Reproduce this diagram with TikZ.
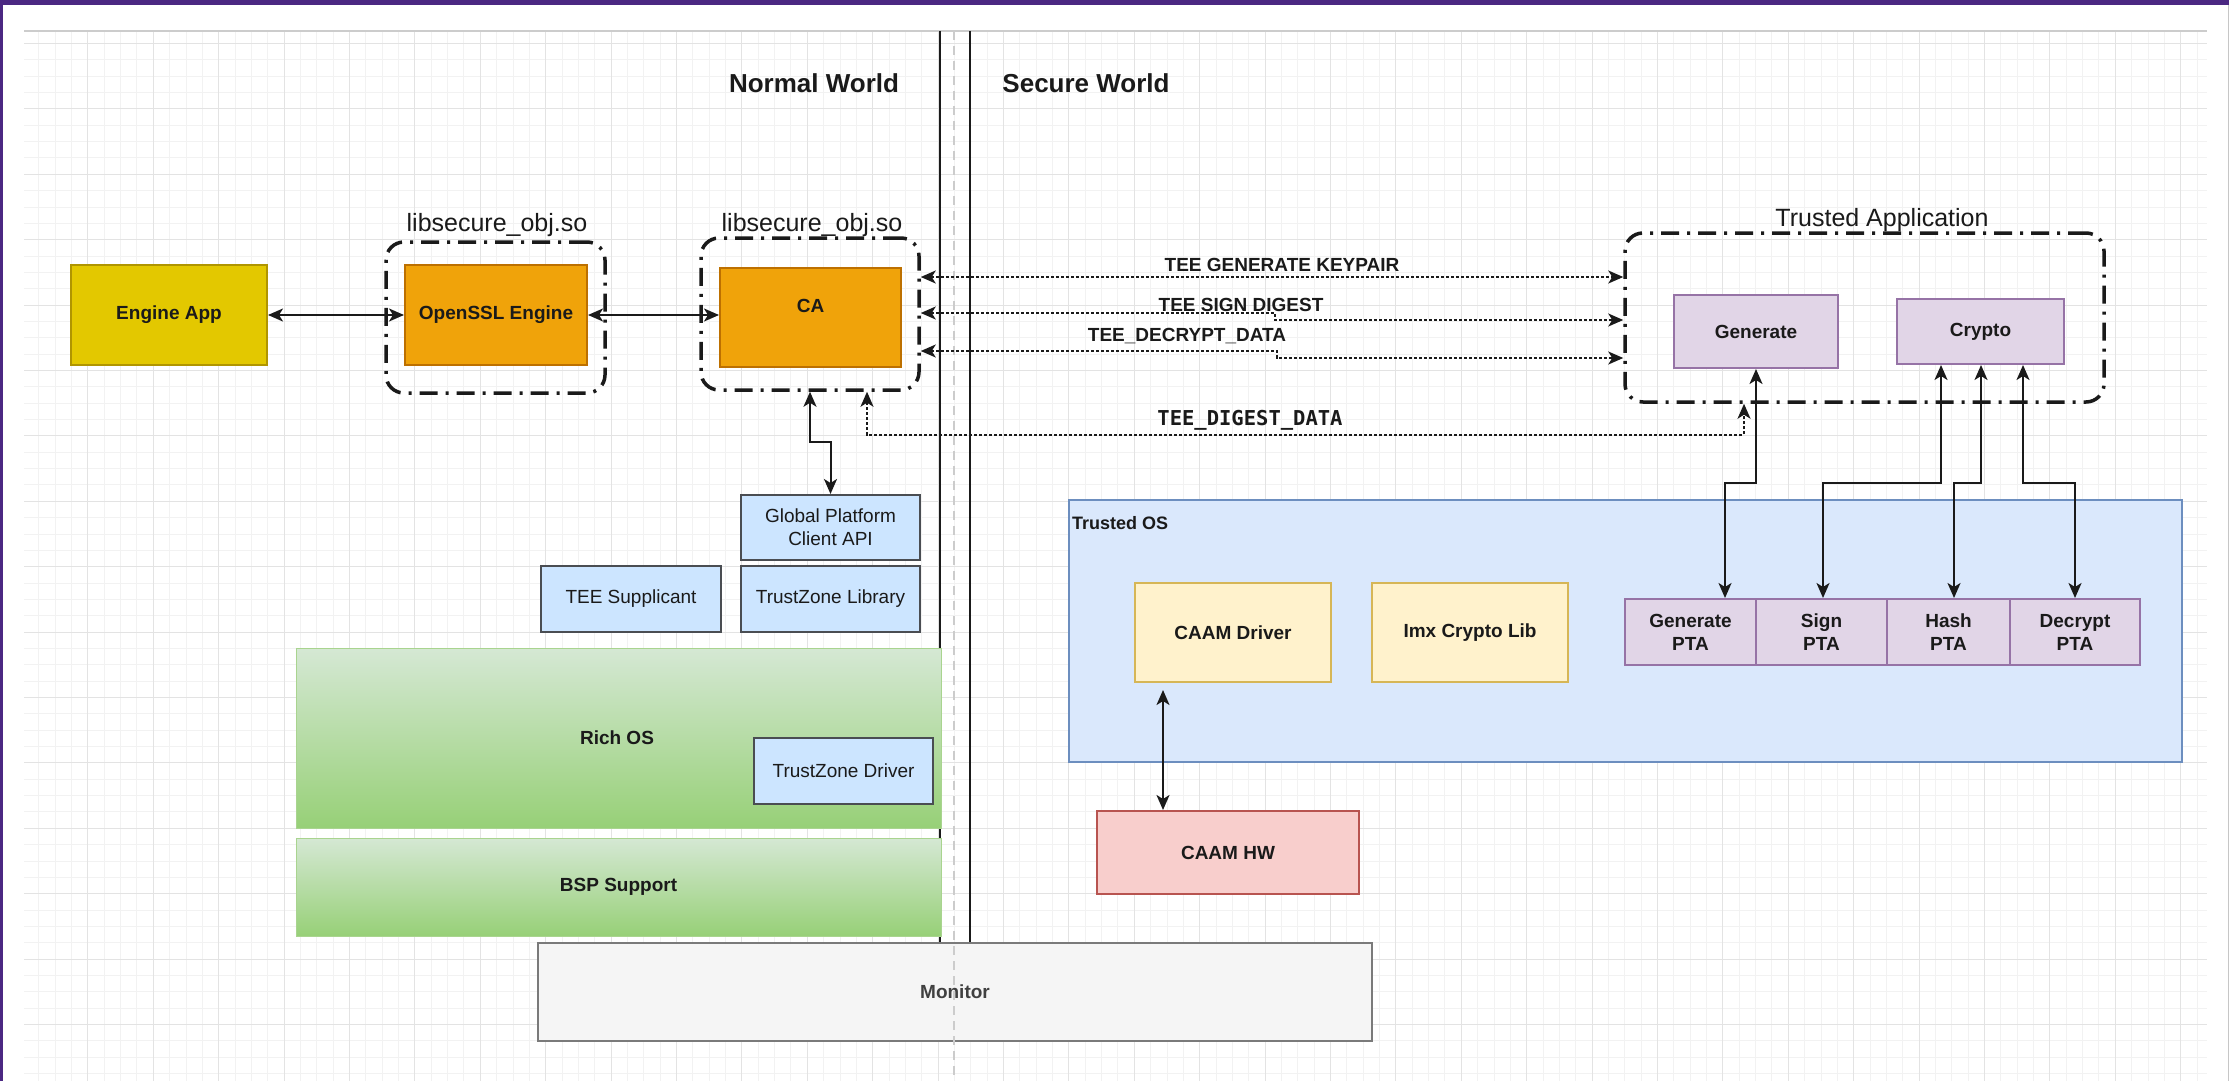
\documentclass[tikz,border=0pt]{standalone}
\usepackage{fontspec}
\setmainfont{Liberation Sans}
\newfontfamily\codefont{DejaVu Sans Mono}
\usetikzlibrary{arrows.meta,calc}

\definecolor{ink}{HTML}{1A1A1A}
\definecolor{frame}{HTML}{4B2882}
\definecolor{gridminor}{HTML}{F2F2F2}
\definecolor{gridmajor}{HTML}{E3E3E3}
\definecolor{engFill}{HTML}{E3C800}
\definecolor{engDraw}{HTML}{B09500}
\definecolor{orFill}{HTML}{F0A30A}
\definecolor{orDraw}{HTML}{BD7000}
\definecolor{purFill}{HTML}{E1D5E7}
\definecolor{purDraw}{HTML}{9673A6}
\definecolor{bluFill}{HTML}{CCE5FF}
\definecolor{bluDraw}{HTML}{4A4D52}
\definecolor{tosFill}{HTML}{DAE8FC}
\definecolor{tosDraw}{HTML}{6C8EBF}
\definecolor{yelFill}{HTML}{FFF2CC}
\definecolor{yelDraw}{HTML}{D6B656}
\definecolor{redFill}{HTML}{F8CECC}
\definecolor{redDraw}{HTML}{B85450}
\definecolor{monFill}{HTML}{F5F5F5}
\definecolor{monDraw}{HTML}{7A7A7A}
\definecolor{greenTop}{HTML}{D5E8D4}
\definecolor{greenBot}{HTML}{97D077}
\definecolor{greenDraw}{HTML}{A9D48F}

\tikzset{
  panel/.style={draw, line width=2pt, inner sep=0pt, align=center,
    font=\fontsize{19}{23}\selectfont\bfseries, text=ink},
  plainpanel/.style={panel, font=\fontsize{19}{23}\selectfont},
  wrap/.style={draw=ink, line width=3.5pt, rounded corners=18pt,
    dash pattern=on 18pt off 8pt on 3pt off 8pt, inner sep=0pt},
  biarrow/.style={draw=ink, line width=2pt,
    {Stealth[length=15pt,width=13pt,inset=4pt]}-{Stealth[length=15pt,width=13pt,inset=4pt]}},
  dotarrow/.style={biarrow, line width=1.8pt, dash pattern=on 3pt off 2pt},
  worldtitle/.style={font=\fontsize{26}{30}\selectfont\bfseries, text=ink},
  libtitle/.style={font=\fontsize{25}{30}\selectfont, text=ink},
  msg/.style={font=\fontsize{19}{23}\selectfont\bfseries, text=ink, inner sep=0pt},
  greenpanel/.style={panel, draw=greenDraw, line width=1pt,
    top color=greenTop, bottom color=greenBot},
}

\begin{document}
\begin{tikzpicture}[x=1pt,y=-1pt]
\useasboundingbox (0,0) rectangle (2229,1081);
\fill[white] (0,0) rectangle (2229,1081);

% drawing grid, snapped to whole pixels
\begin{scope}
  \clip (24,31) rectangle (2207,1081);
  \foreach \i in {1,...,134} {\draw[gridminor, line width=1pt] ({round(22+16.35*\i)+0.5},31) -- ({round(22+16.35*\i)+0.5},1081);}
  \foreach \j in {0,...,64} {\draw[gridminor, line width=1pt] (24,{round(43+16.35*\j)+0.5}) -- (2207,{round(43+16.35*\j)+0.5});}
  \foreach \i in {1,...,33} {\draw[gridmajor, line width=1pt] ({round(22+65.4*\i)+0.5},31) -- ({round(22+65.4*\i)+0.5},1081);}
  \foreach \j in {0,...,16} {\draw[gridmajor, line width=1pt] (24,{round(43+65.4*\j)+0.5}) -- (2207,{round(43+65.4*\j)+0.5});}
\end{scope}
\draw[gray!40, line width=1.2pt] (24,31) -- (2207,31);

% window frame
\fill[frame] (0,0) rectangle (2229,5);
\fill[frame] (0,0) rectangle (3,1081);
\draw[gray!45, line width=1pt] (2228,5) -- (2228,1081);

% world borders
\draw[ink, line width=2pt] (940,31) -- (940,943);
\draw[ink, line width=2pt] (970,31) -- (970,943);

\node[worldtitle] (nw) at (814,83) {Normal World};
\node[worldtitle] (sw) at (1086,83) {Secure World};

% normal world, user space
\node[panel, fill=engFill, draw=engDraw, minimum width=196pt, minimum height=100pt] (engine) at (169,315) {Engine App};
\node[panel, fill=orFill, draw=orDraw, minimum width=182pt, minimum height=100pt] (openssl) at (496,315) {OpenSSL Engine};
\node[panel, fill=orFill, draw=orDraw, minimum width=181pt, minimum height=99pt,
  label={[font=\fontsize{19}{23}\selectfont\bfseries, text=ink, yshift=11.5pt]center:CA}] (ca) at (810.5,317.5) {};

\node[wrap, minimum width=219pt, minimum height=151pt] (grpA) at (495.5,317.5) {};
\node[wrap, minimum width=218pt, minimum height=152pt] (grpB) at (810,314) {};
\node[libtitle] (libA) at (497,225) {libsecure\_obj.so};
\node[libtitle] (libB) at (812,225) {libsecure\_obj.so};

\node[plainpanel, fill=bluFill, draw=bluDraw, minimum width=179pt, minimum height=65pt] (gpapi) at (830.5,527.5) {Global Platform\\Client API};
\node[plainpanel, fill=bluFill, draw=bluDraw, minimum width=180pt, minimum height=66pt] (teesupp) at (631,599) {TEE Supplicant};
\node[plainpanel, fill=bluFill, draw=bluDraw, minimum width=179pt, minimum height=66pt] (tzlib) at (830.5,599) {TrustZone Library};

% normal world, kernel
\node[greenpanel, minimum width=645pt, minimum height=180pt] (richos) at (618.5,738) {};
\node[font=\fontsize{19}{23}\selectfont\bfseries, text=ink] (richlbl) at (617,738) {Rich OS};
\node[plainpanel, fill=bluFill, draw=bluDraw, minimum width=179pt, minimum height=66pt] (tzdrv) at (843.5,771) {TrustZone Driver};
\node[greenpanel, minimum width=645pt, minimum height=98pt] (bsp) at (618.5,887) {BSP Support};

% monitor
\node[panel, fill=monFill, draw=monDraw, text=black!75, minimum width=834pt, minimum height=98pt] (monitor) at (955,992) {Monitor};
\draw[gray!40, line width=1.5pt, dash pattern=on 9pt off 6pt] (954,31) -- (954,1081);

% secure world
\node[wrap, minimum width=479pt, minimum height=169pt] (ta) at (1864.5,317.5) {};
\node[libtitle] (talbl) at (1882,220) {Trusted Application};
\node[panel, fill=purFill, draw=purDraw, minimum width=164pt, minimum height=73pt] (generate) at (1756,331.5) {Generate};
\node[panel, fill=purFill, draw=purDraw, minimum width=167pt, minimum height=65pt] (crypto) at (1980.5,331.5) {Crypto};

\node[panel, fill=tosFill, draw=tosDraw, minimum width=1113pt, minimum height=262pt] (tos) at (1625.5,631) {};
\node[font=\fontsize{18}{22}\selectfont\bfseries, text=ink, anchor=west, inner sep=0pt] (toslbl) at (1072,523) {Trusted OS};
\node[panel, fill=yelFill, draw=yelDraw, minimum width=196pt, minimum height=99pt] (caamdrv) at (1233,632.5) {CAAM Driver};
\node[panel, fill=yelFill, draw=yelDraw, minimum width=196pt, minimum height=99pt] (imx) at (1470,632.5) {Imx Crypto Lib};
\node[panel, fill=purFill, draw=purDraw, minimum width=131pt, minimum height=66pt] (genpta) at (1690.5,632) {Generate\\PTA};
\node[panel, fill=purFill, draw=purDraw, minimum width=131pt, minimum height=66pt] (signpta) at (1821.5,632) {Sign\\PTA};
\node[panel, fill=purFill, draw=purDraw, minimum width=123pt, minimum height=66pt] (hashpta) at (1948.5,632) {Hash\\PTA};
\node[panel, fill=purFill, draw=purDraw, minimum width=130pt, minimum height=66pt] (decpta) at (2075,632) {Decrypt\\PTA};
\node[panel, fill=redFill, draw=redDraw, minimum width=262pt, minimum height=83pt] (caamhw) at (1228,852.5) {CAAM HW};

% connectors
\draw[biarrow] (engine.east) -- (openssl.west);
\draw[biarrow] (openssl.east) -- (openssl.east -| ca.west);
\draw[biarrow] (grpB.south) |- ($(gpapi.north)+(0,-52)$) -- (gpapi.north);

\draw[dotarrow] ([yshift=37pt]grpB.east) -- ([yshift=37pt]grpB.east -| ta.west);
\draw[dotarrow] ([yshift=1pt]grpB.east) -- ++(354,0) -- ++(0,7) -- ([yshift=-2.5pt]ta.west);
\draw[dotarrow] ([yshift=-37pt]grpB.east) -- ++(356,0) -- ++(0,7) -- ([yshift=-40.5pt]ta.west);
\draw[dotarrow] ([xshift=57pt]grpB.south) |- ([xshift=-120.5pt,yshift=-31pt]ta.south) -- ([xshift=-120.5pt]ta.south);

\node[msg] (m1) at (1282,265) {TEE GENERATE KEYPAIR};
\node[msg] (m2) at (1241,305) {TEE SIGN DIGEST};
\node[msg] (m3) at (1187,336) {TEE\_DECRYPT\_DATA};
\node[msg, font=\fontsize{20.5}{24}\selectfont\codefont\bfseries] (m4) at (1250,420) {TEE\_DIGEST\_DATA};

\draw[biarrow] (generate.south) -- ++(0,114) -| ([xshift=34.5pt]genpta.north);
\draw[biarrow] ([xshift=-39.5pt]crypto.south) -- ++(0,118) -| ([xshift=1.5pt]signpta.north);
\draw[biarrow] ([xshift=0.5pt]crypto.south) -- ++(0,118) -| ([xshift=5.5pt]hashpta.north);
\draw[biarrow] ([xshift=42.5pt]crypto.south) -- ++(0,118) -| (decpta.north);

\draw[biarrow] ([xshift=-70pt,yshift=-7pt]caamdrv.south) -- ([xshift=-70pt]caamdrv.south |- caamhw.north);
\end{tikzpicture}
\end{document}
